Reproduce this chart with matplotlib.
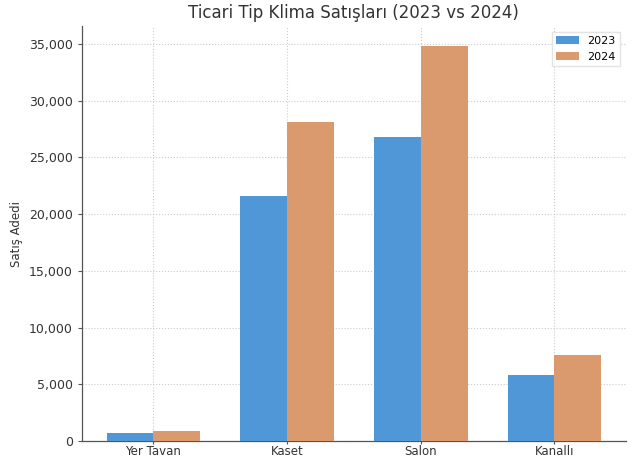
import matplotlib
matplotlib.use("Agg")
import matplotlib.pyplot as plt
import numpy as np
from matplotlib.ticker import FuncFormatter

categories = ["Yer Tavan", "Kaset", "Salon", "Kanallı"]
sales_2023 = [700, 21600, 26800, 5800]
sales_2024 = [880, 28100, 34800, 7600]
series_labels = ["2023", "2024"]
title = "Ticari Tip Klima Satışları (2023 vs 2024)"
ylabel = "Satış Adedi"

fig = plt.figure(figsize=(6.44, 4.61), dpi=100)
ax = fig.add_axes([0.127, 0.043, 0.845, 0.9])

x = np.arange(len(categories))
w = 0.35
ax.bar(x - w/2, sales_2023, w, color="#4f97d6", label=series_labels[0], zorder=3)
ax.bar(x + w/2, sales_2024, w, color="#da9a6e", label=series_labels[1], zorder=3)

ax.set_xticks(x)
ax.set_xticklabels(categories, fontsize=8.5, color="#333333")
ax.yaxis.set_major_formatter(FuncFormatter(lambda v, p: f"{int(v):,}"))
ax.tick_params(axis="y", labelsize=9, colors="#333333", length=3, color="#555555")
ax.tick_params(axis="x", length=2, pad=1, color="#555555")
ax.set_ylabel(ylabel, fontsize=8.5, color="#333333")
ax.set_title(title, fontsize=12, color="#333333", pad=6)

for s in ["top", "right"]:
    ax.spines[s].set_visible(False)
for s in ["left", "bottom"]:
    ax.spines[s].set_color("#555555")
    ax.spines[s].set_linewidth(0.9)

ax.grid(True, linestyle=":", color="#cccccc", linewidth=0.8, zorder=0)
ax.legend(loc="upper right", fontsize=8, frameon=True, edgecolor="#dddddd", fancybox=False)

fig.savefig("out.png", dpi=100)
